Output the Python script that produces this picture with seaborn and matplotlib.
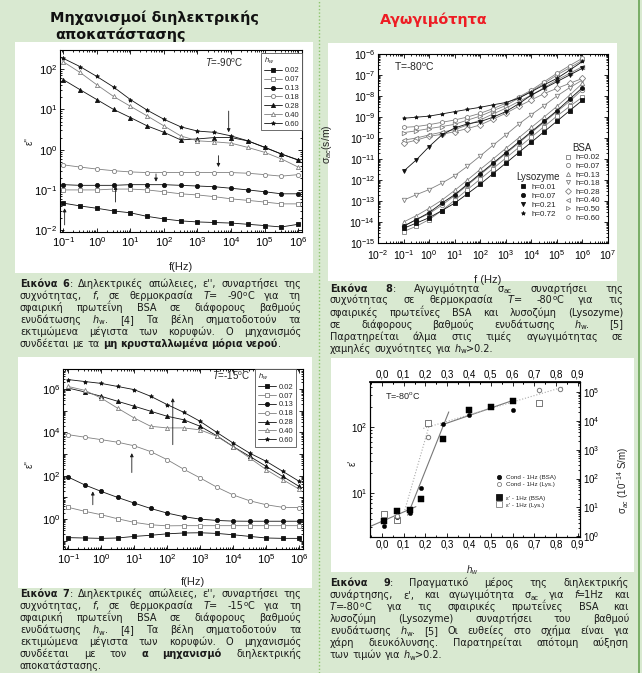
import re
import numpy as np
import matplotlib
matplotlib.use('Agg')
import matplotlib.pyplot as plt
import matplotlib.ticker as mticker
from matplotlib.lines import Line2D
from matplotlib.patches import Rectangle
import seaborn as sns

W, H = 642, 673
BG = '#d9e9d1'
FILLED = '#111111'
OPEN = '#808080'

# frequencies (Hz), half-decade steps
freq = [0.1, 0.316, 1, 3.16, 10, 31.6, 100, 316, 1e3, 3.16e3, 1e4, 3.16e4, 1e5, 3.16e5, 1e6]
hw_labels = ['0.02', '0.07', '0.13', '0.18', '0.28', '0.40', '0.60']
hw_markers = ['s', 's', 'o', 'o', '^', '^', '*']
hw_filled = [True, False, True, False, True, False, True]

# Fig 6: eps'' at T=-90C
e90_002 = [0.047, 0.040, 0.035, 0.030, 0.027, 0.022, 0.019, 0.017, 0.016, 0.0155, 0.015, 0.014, 0.013, 0.012, 0.014]
e90_007 = [0.10, 0.10, 0.10, 0.105, 0.105, 0.10, 0.09, 0.08, 0.075, 0.068, 0.06, 0.055, 0.05, 0.045, 0.045]
e90_013 = [0.135, 0.13, 0.13, 0.13, 0.135, 0.135, 0.135, 0.13, 0.125, 0.12, 0.11, 0.10, 0.09, 0.08, 0.08]
e90_018 = [0.42, 0.37, 0.33, 0.30, 0.28, 0.27, 0.27, 0.27, 0.27, 0.27, 0.27, 0.26, 0.24, 0.22, 0.24]
e90_028 = [55, 31, 17.6, 10, 6.3, 3.9, 2.7, 1.75, 1.85, 2.0, 2.0, 1.65, 1.15, 0.78, 0.55]
e90_040 = [153, 83, 41, 21, 12, 6.9, 3.9, 2.2, 1.66, 1.57, 1.45, 1.14, 0.86, 0.59, 0.37]
e90_060 = [186, 116, 66, 36, 17.6, 9.6, 5.7, 3.7, 2.9, 2.7, 2.2, 1.66, 1.14, 0.78, 0.56]

# Fig 7: eps'' at T=-15C
e15_002 = [0.14, 0.135, 0.13, 0.135, 0.16, 0.18, 0.21, 0.23, 0.235, 0.22, 0.19, 0.16, 0.135, 0.13, 0.13]
e15_007 = [3.5, 2.3, 1.6, 1.04, 0.71, 0.55, 0.49, 0.5, 0.5, 0.5, 0.5, 0.5, 0.5, 0.5, 0.5]
e15_013 = [87, 38, 19, 10, 5.5, 3.1, 1.9, 1.3, 1.0, 0.87, 0.81, 0.8, 0.8, 0.8, 0.8]
e15_018 = [7800, 6000, 4600, 3500, 2400, 1300, 550, 200, 79, 30, 13, 7, 4.6, 3.5, 3.4]
e15_028 = [1.1e6, 7.3e5, 4.6e5, 2.7e5, 1.6e5, 9.4e4, 5.5e4, 3.8e4, 1.9e4, 7e3, 2.2e3, 780, 270, 93, 32]
e15_040 = [1.3e6, 8.7e5, 3.8e5, 1.3e5, 4.6e4, 1.9e4, 1.6e4, 1.6e4, 1.3e4, 6.6e3, 2.2e3, 660, 190, 66, 24]
e15_060 = [2.7e6, 2.2e6, 1.8e6, 1.3e6, 9.3e5, 4.6e5, 1.9e5, 8.4e4, 3.2e4, 1e4, 3.2e3, 1.1e3, 460, 160, 55]

# Fig 8: sigma_ac (S/m) at T=-80C
bsa_labels = ['h=0.02', 'h=0.07', 'h=0.13', 'h=0.18', 'h=0.28', 'h=0.40', 'h=0.50', 'h=0.60']
bsa_markers = ['s', 'o', '^', 'v', 'D', '<', '>', 'h']
s_bsa_002 = [3.5e-15, 6.3e-15, 1.3e-14, 3.5e-14, 1.1e-13, 3.5e-13, 1.1e-12, 3.5e-12, 1.1e-11, 3.5e-11, 1.1e-10, 3.5e-10, 1.1e-9, 3.2e-9, 8.9e-9]
s_bsa_007 = [6.3e-15, 1.3e-14, 2.5e-14, 6.3e-14, 1.8e-13, 5.6e-13, 1.8e-12, 5.6e-12, 1.8e-11, 5.6e-11, 1.8e-10, 5.6e-10, 1.8e-9, 5.6e-9, 2.0e-8]
s_bsa_013 = [1.0e-14, 2.0e-14, 4.5e-14, 1.1e-13, 3.2e-13, 1.0e-12, 3.2e-12, 1.0e-11, 3.2e-11, 1.0e-10, 3.2e-10, 1.0e-9, 3.2e-9, 1.1e-8, 4.0e-8]
s_bsa_018 = [1.1e-13, 2.0e-13, 3.5e-13, 7.1e-13, 1.6e-12, 4.5e-12, 1.4e-11, 4.5e-11, 1.4e-10, 4.5e-10, 1.3e-9, 3.5e-9, 1.0e-8, 2.5e-8, 5.8e-8]
s_bsa_028 = [5.6e-11, 7.9e-11, 1.2e-10, 1.5e-10, 2.0e-10, 2.8e-10, 4.2e-10, 7.9e-10, 1.5e-9, 3.2e-9, 6.5e-9, 1.3e-8, 2.3e-8, 4.0e-8, 6.9e-8]
s_bsa_040 = [7.9e-11, 1.0e-10, 1.4e-10, 1.9e-10, 2.5e-10, 4.2e-10, 7.2e-10, 1.4e-9, 2.6e-9, 5.4e-9, 1.1e-8, 2.5e-8, 5.8e-8, 1.2e-7, 2.5e-7]
s_bsa_050 = [1.8e-10, 2.2e-10, 2.8e-10, 3.5e-10, 4.5e-10, 7.1e-10, 1.1e-9, 2.0e-9, 3.5e-9, 7.9e-9, 1.7e-8, 4.0e-8, 1.0e-7, 2.2e-7, 5.0e-7]
s_bsa_060 = [3.2e-10, 3.5e-10, 4.3e-10, 5.6e-10, 7.2e-10, 1.0e-9, 1.5e-9, 2.5e-9, 4.5e-9, 8.9e-9, 1.9e-8, 4.8e-8, 1.2e-7, 2.8e-7, 6.3e-7]
lys_labels = ['h=0.01', 'h=0.07', 'h=0.21', 'h=0.72']
lys_markers = ['s', 'o', 'v', '*']
s_lys_001 = [5.0e-15, 8.9e-15, 1.6e-14, 3.5e-14, 7.9e-14, 2.2e-13, 6.3e-13, 2.0e-12, 6.3e-12, 2.0e-11, 6.3e-11, 2.0e-10, 6.3e-10, 2.0e-9, 6.3e-9]
s_lys_007 = [6.3e-15, 1.3e-14, 2.8e-14, 7.9e-14, 2.0e-13, 6.3e-13, 2.0e-12, 6.3e-12, 2.0e-11, 6.3e-11, 2.0e-10, 6.3e-10, 2.0e-9, 7.1e-9, 2.5e-8]
s_lys_021 = [2.6e-12, 9.1e-12, 3.9e-11, 1.4e-10, 3.0e-10, 4.7e-10, 6.0e-10, 9.8e-10, 1.8e-9, 4.2e-9, 1.1e-8, 2.3e-8, 4.8e-8, 1.0e-7, 2.1e-7]
s_lys_072 = [8.7e-10, 9.8e-10, 1.1e-9, 1.4e-9, 1.8e-9, 2.3e-9, 2.9e-9, 3.8e-9, 4.9e-9, 7.8e-9, 1.6e-8, 3.4e-8, 6.9e-8, 1.7e-7, 4.4e-7]

# Fig 9: eps' and sigma_ac at 1 Hz vs hydration
h_bsa = [0.01, 0.07, 0.13, 0.18, 0.28, 0.40, 0.50, 0.60]
eps_bsa = [3.8, 5.3, 5.5, 8.0, 65, 180, 200, 248]
cond_bsa = [2.3, 4.7, 6.5, 46, 8000, 16500, 30500, 23000]
h_lys_eps = [0.01, 0.07, 0.21, 0.72]
eps_lys = [4.8, 3.9, 116, 233]
h_lys_cond = [0.07, 0.21, 0.72, 0.82]
cond_lys = [5.2, 2750, 114000, 130000]
# guide lines drawn in the figure (eps' scale)
guide_bsa_h = [[-0.055, 0.156], [0.118, 0.307], [0.27, 0.604]]
guide_bsa_e = [[3.1, 6.2], [4.6, 169], [106, 254]]
guide_lys_h = [[0.105, 0.225], [0.19, 0.83]]
guide_lys_e = [[5.5, 130], [95, 400]]

# arrows: (f, start, end)
arrows90 = [(8.5e3, 9.1, 2.7), (4.2e3, 0.71, 0.37), (58, 0.25, 0.16), (3.6, 0.05, 0.126), (0.11, 0.0135, 0.035)]
arrows15 = [(148, 2.7e3, 3.8e5), (8.5, 140, 1.1e3), (0.56, 4.6, 19)]

cap6 = [
    "**Εικόνα 6**: Διηλεκτρικές απώλειες, ε'',  συναρτήσει της",
    "συχνότητας, ~f~, σε θερμοκρασία ~T~= -90^{o}C για τη",
    "σφαιρική πρωτεΐνη BSA σε διάφορους βαθμούς",
    "ενυδάτωσης ~h~_{w}. [4] Τα βέλη σηματοδοτούν τα",
    "εκτιμώμενα μέγιστα των κορυφών. Ο μηχανισμός",
    "συνδέεται με τα **μη κρυσταλλωμένα μόρια νερού**.",
]
cap7 = [
    "**Εικόνα 7**: Διηλεκτρικές απώλειες, ε'',  συναρτήσει της",
    "συχνότητας, ~f~, σε θερμοκρασία ~T~= -15^{o}C για τη",
    "σφαιρική πρωτεΐνη BSA σε διάφορους βαθμούς",
    "ενυδάτωσης ~h~_{w}. [4] Τα βέλη σηματοδοτούν τα",
    "εκτιμώμενα μέγιστα των κορυφών. Ο μηχανισμός",
    "συνδέεται με τον **α μηχανισμό** διηλεκτρικής",
    "αποκατάστασης.",
]
cap8 = [
    "**Εικόνα 8**: Αγωγιμότητα σ_{ac} συναρτήσει της",
    "συχνότητας σε θερμοκρασία ~T~= -80^{o}C για τις",
    "σφαιρικές πρωτεΐνες BSA και λυσοζύμη (Lysozyme)",
    "σε διάφορους βαθμούς ενυδάτωσης ~h~_{w}. [5]",
    "Παρατηρείται άλμα στις τιμές  αγωγιμότητας σε",
    "χαμηλές συχνότητες για ~h~_{w}>0.2.",
]
cap9 = [
    "**Εικόνα 9**: Πραγματικό μέρος της διηλεκτρικής",
    "συνάρτησης, ε', και αγωγιμότητα σ_{ac} για ~f~=1Hz και",
    "~T~=-80^{o}C για τις σφαιρικές πρωτεΐνες BSA και",
    "λυσοζύμη (Lysozyme) συναρτήσει του βαθμού",
    "ενυδάτωσης ~h~_{w}. [5] Οι ευθείες στο σχήμα είναι για",
    "χάρη διευκόλυνσης. Παρατηρείται απότομη αύξηση",
    "των τιμών για ~h~_{w}>0.2.",
]

sns.set_theme(style='ticks')
plt.rcParams['font.family'] = ['Liberation Sans', 'DejaVu Sans']
plt.rcParams['mathtext.fontset'] = 'custom'
plt.rcParams['mathtext.rm'] = 'Liberation Sans'
plt.rcParams['mathtext.it'] = 'Liberation Sans:italic'
plt.rcParams['mathtext.bf'] = 'Liberation Sans:bold'
plt.rcParams['mathtext.sf'] = 'Liberation Sans'
plt.rcParams['axes.edgecolor'] = 'black'
plt.rcParams['xtick.color'] = 'black'
plt.rcParams['ytick.color'] = 'black'

fig = plt.figure(figsize=(W / 100, H / 100), dpi=100)
fig.patch.set_facecolor(BG)
renderer = fig.canvas.get_renderer()


def panel(x0, y0, x1, y1):
    fig.add_artist(Rectangle((x0 / W, 1 - y1 / H), (x1 - x0) / W, (y1 - y0) / H,
                             transform=fig.transFigure, facecolor='white',
                             edgecolor='none', zorder=-5))


def axes_at(x0, y0, x1, y1):
    return fig.add_axes([x0 / W, 1 - y1 / H, (x1 - x0) / W, (y1 - y0) / H])


def style_ax(ax, fs, right=True):
    ax.tick_params(which='both', direction='in', top=True, right=right,
                   labelsize=fs, width=0.6, pad=2)
    ax.tick_params(which='major', length=3)
    ax.tick_params(which='minor', length=1.5)
    for s in ax.spines.values():
        s.set_linewidth(0.8)
        s.set_color('black')


def log_axis(axis, lo, hi, only_even=False):
    # decades lo..hi only, so no hidden labels sit outside the frame
    axis.set_major_locator(mticker.FixedLocator([10.0 ** k for k in range(lo, hi + 1)]))
    axis.set_minor_locator(mticker.FixedLocator(
        [s * 10.0 ** k for k in range(lo - 1, hi + 1) for s in range(2, 10)]))
    axis.set_minor_formatter(mticker.NullFormatter())
    if only_even:
        axis.set_major_formatter(mticker.FuncFormatter(
            lambda v, p: f'$10^{{{int(round(np.log10(v)))}}}$' if int(round(np.log10(v))) % 2 == 0 else ''))
    else:
        axis.set_major_formatter(mticker.LogFormatterSciNotation())


def curve(ax, x, y, marker, filled, ms=3.0):
    c = FILLED if filled else OPEN
    sns.lineplot(x=x, y=y, ax=ax, color=c, lw=0.6, marker=marker, markersize=ms,
                 markerfacecolor=c if filled else 'white', markeredgecolor=c,
                 markeredgewidth=0.6, errorbar=None)


def handle(marker, filled, line=True, ms=3.0):
    c = FILLED if filled else OPEN
    return Line2D([], [], color=c, lw=0.6 if line else 0, marker=marker, ms=ms,
                  mfc=c if filled else 'white', mec=c, mew=0.6)


TOKEN = re.compile(r'\*\*|~|_\{([^}]*)\}|\^\{([^}]*)\}|([^*~_^]+)')


def parse(line):
    words, bold, ital = [[]], False, False
    for m in TOKEN.finditer(line):
        tok = m.group(0)
        if tok == '**':
            bold = not bold
        elif tok == '~':
            ital = not ital
        elif m.group(1) is not None:
            words[-1].append((m.group(1), bold, ital, 'sub'))
        elif m.group(2) is not None:
            words[-1].append((m.group(2), bold, ital, 'sup'))
        else:
            for j, part in enumerate(tok.split(' ')):
                if j:
                    words.append([])
                if part:
                    words[-1].append((part, bold, ital, ''))
    return [w for w in words if w]


def caption(lines, x0, x1, base, dy, size=7.0):
    space = size * 100 / 72 * 0.32
    for i, line in enumerate(lines):
        y = base + i * dy
        words = parse(line)
        arts, widths = [], []
        for w in words:
            pieces = []
            for s, b, it, pos in w:
                t = fig.text(0.5, 0.5, s, fontsize=size * 0.72 if pos else size,
                             fontweight='bold' if b else 'normal',
                             fontstyle='italic' if it else 'normal',
                             family='DejaVu Sans', color='#1a1a1a', va='baseline')
                pieces.append((t, pos, t.get_window_extent(renderer).width))
            arts.append(pieces)
            widths.append(sum(p[2] for p in pieces))
        last = i == len(lines) - 1
        gap = space if last or len(words) < 2 else (x1 - x0 - sum(widths)) / (len(words) - 1)
        x = x0
        for pieces, wd in zip(arts, widths):
            xx = x
            for t, pos, pw in pieces:
                off = 1.5 if pos == 'sub' else (-3.2 if pos == 'sup' else 0)
                t.set_position((xx / W, 1 - (y + off) / H))
                xx += pw
            x += wd + gap


# background furniture
for p in [(15, 42, 313, 273), (18, 357, 312, 588), (328, 43, 617, 281), (331, 358, 634, 572)]:
    panel(*p)
fig.add_artist(Line2D([319 / W] * 2, [0, 1], transform=fig.transFigure,
                      color='#8cc46c', lw=1.0, ls=(0, (1, 1.5))))
fig.add_artist(Line2D([639 / W] * 2, [0, 1], transform=fig.transFigure,
                      color='#78ad66', lw=1.4))

fig.text(50 / W, 1 - 18 / H, 'Μηχανισμοί διηλεκτρικής', fontsize=10.4, fontweight='bold',
         family='DejaVu Sans', color='#111111', va='center')
fig.text(55 / W, 1 - 35 / H, 'αποκατάστασης', fontsize=10.4, fontweight='bold',
         family='DejaVu Sans', color='#111111', va='center')
fig.text(434 / W, 1 - 20 / H, 'Αγωγιμότητα', fontsize=10.4, fontweight='bold',
         family='DejaVu Sans', color='#ee1c24', va='center', ha='center')

# ---- Fig 6 ----
ax6 = axes_at(60, 50, 302, 232)
for lab, m, fl, vals in zip(hw_labels, hw_markers, hw_filled,
                            [e90_002, e90_007, e90_013, e90_018, e90_028, e90_040, e90_060]):
    curve(ax6, freq, vals, m, fl)
ax6.set(xscale='log', yscale='log')
log_axis(ax6.xaxis, -1, 6)
log_axis(ax6.yaxis, -2, 2)
ax6.set(xlim=(0.08, 1.3e6), ylim=(0.009, 300))
style_ax(ax6, 8)
for f, a, b in arrows90:
    ax6.annotate('', xy=(f, b), xytext=(f, a),
                 arrowprops=dict(arrowstyle='-|>', color='k', lw=0.6, mutation_scale=5,
                                 shrinkA=0, shrinkB=0))
ax6.set_xlabel('f(Hz)', fontsize=8)
ax6.xaxis.set_label_coords(0.5, -0.165)
ax6.set_ylabel("ε''", fontsize=7)
ax6.yaxis.set_label_coords(-0.105, 0.5)
ax6.text(0.68, 0.93, '$T$=-90$^{\\rm o}$C', transform=ax6.transAxes, fontsize=7, ha='center', va='center')
leg = ax6.legend([handle(m, f) for m, f in zip(hw_markers, hw_filled)], hw_labels,
                 title='$h_w$', loc='upper right', bbox_to_anchor=(1.0, 0.985),
                 fontsize=5.5, title_fontsize=5.5, alignment='left', frameon=True,
                 fancybox=False, edgecolor='#555555', framealpha=1, borderpad=0.35,
                 handlelength=2.4, handletextpad=0.3, labelspacing=0.2, borderaxespad=0)
leg.get_frame().set_linewidth(0.6)

# ---- Fig 7 ----
ax7 = axes_at(63, 369, 303, 549)
for lab, m, fl, vals in zip(hw_labels, hw_markers, hw_filled,
                            [e15_002, e15_007, e15_013, e15_018, e15_028, e15_040, e15_060]):
    curve(ax7, freq, vals, m, fl)
ax7.set(xscale='log', yscale='log')
log_axis(ax7.xaxis, -1, 6)
log_axis(ax7.yaxis, -1, 6, only_even=True)
ax7.set(xlim=(0.07, 1.3e6), ylim=(0.042, 8.3e6))
style_ax(ax7, 8)
for f, a, b in arrows15:
    ax7.annotate('', xy=(f, b), xytext=(f, a),
                 arrowprops=dict(arrowstyle='-|>', color='k', lw=0.6, mutation_scale=5,
                                 shrinkA=0, shrinkB=0))
ax7.set_xlabel('f(Hz)', fontsize=8)
ax7.xaxis.set_label_coords(0.54, -0.155)
ax7.set_ylabel("ε''", fontsize=7)
ax7.yaxis.set_label_coords(-0.117, 0.47)
ax7.text(0.70, 0.965, '$T$=-15$^{\\rm o}$C', transform=ax7.transAxes, fontsize=7, ha='center', va='center')
leg = ax7.legend([handle(m, f) for m, f in zip(hw_markers, hw_filled)], hw_labels,
                 title='$h_w$', loc='upper right', bbox_to_anchor=(0.97, 1.0),
                 fontsize=5.5, title_fontsize=5.5, alignment='left', frameon=True,
                 fancybox=False, edgecolor='#555555', framealpha=1, borderpad=0.35,
                 handlelength=2.4, handletextpad=0.3, labelspacing=0.2, borderaxespad=0)
leg.get_frame().set_linewidth(0.6)

# ---- Fig 8 ----
ax8 = axes_at(378, 54, 608, 243)
for m, vals in zip(bsa_markers, [s_bsa_002, s_bsa_007, s_bsa_013, s_bsa_018,
                                 s_bsa_028, s_bsa_040, s_bsa_050, s_bsa_060]):
    curve(ax8, freq, vals, m, False, ms=3.2)
for m, vals in zip(lys_markers, [s_lys_001, s_lys_007, s_lys_021, s_lys_072]):
    curve(ax8, freq, vals, m, True, ms=2.8)
ax8.set(xscale='log', yscale='log')
log_axis(ax8.xaxis, -2, 7)
log_axis(ax8.yaxis, -15, -6)
ax8.set(xlim=(1e-2, 1e7), ylim=(1e-15, 1e-6))
style_ax(ax8, 7.5)
ax8.tick_params(axis='x', pad=4)
ax8.set_xlabel('f (Hz)', fontsize=8)
ax8.xaxis.set_label_coords(0.477, -0.167)
ax8.set_ylabel('σ$_{ac}$(s/m)', fontsize=7.5)
ax8.yaxis.set_label_coords(-0.19, 0.52)
ax8.text(0.16, 0.93, 'T=-80$^{\\rm o}$C', transform=ax8.transAxes, fontsize=7.5, ha='center', va='center')
leg_b = ax8.legend([handle(m, False, line=False) for m in bsa_markers], bsa_labels,
                   title='BSA', loc='upper left', bbox_to_anchor=(0.81, 0.53), frameon=False,
                   fontsize=5.8, title_fontsize=7, handlelength=0.9, handletextpad=0.5,
                   labelspacing=0.12, borderpad=0, borderaxespad=0)
ax8.add_artist(leg_b)
ax8.legend([handle(m, True, line=False) for m in lys_markers], lys_labels,
           title='Lysozyme', loc='upper left', bbox_to_anchor=(0.60, 0.375), frameon=False,
           fontsize=5.8, title_fontsize=7, handlelength=0.9, handletextpad=0.5,
           labelspacing=0.15, borderpad=0, borderaxespad=0)

# ---- Fig 9 ----
ax9 = axes_at(370, 382, 580, 537)
ax9r = ax9.twinx()
for hh, ee in zip(guide_bsa_h, guide_bsa_e):
    sns.lineplot(x=hh, y=ee, ax=ax9, color='#777777', lw=0.8, errorbar=None)
for hh, ee in zip(guide_lys_h, guide_lys_e):
    sns.lineplot(x=hh, y=ee, ax=ax9, color='#aaaaaa', lw=0.8, ls=':', errorbar=None)
sns.scatterplot(x=h_bsa, y=eps_bsa, ax=ax9, marker='s', s=16, color='black', edgecolor='black', zorder=3)
sns.scatterplot(x=h_lys_eps, y=eps_lys, ax=ax9, marker='s', s=16, facecolor='white', edgecolor='#777777', linewidth=0.7, zorder=3)
sns.scatterplot(x=h_bsa, y=cond_bsa, ax=ax9r, marker='o', s=10, color='black', edgecolor='black', zorder=3)
sns.scatterplot(x=h_lys_cond, y=cond_lys, ax=ax9r, marker='o', s=10, facecolor='white', edgecolor='#777777', linewidth=0.7, zorder=3)
ax9.set(yscale='log')
ax9r.set(yscale='log')
log_axis(ax9.yaxis, 1, 2)
log_axis(ax9r.yaxis, 0, 5)
ax9.set(xlim=(-0.055, 0.91), ylim=(2.15, 480))
ax9r.set(ylim=(0.95, 2.2e5))
comma = mticker.FuncFormatter(lambda v, p: f'{v:.1f}'.replace('.', ','))
h_ticks = [0.0, 0.1, 0.2, 0.3, 0.4, 0.5, 0.6, 0.7, 0.8, 0.9]
ax9.xaxis.set_major_locator(mticker.FixedLocator(h_ticks))
ax9.xaxis.set_minor_locator(mticker.MultipleLocator(0.05))
ax9.xaxis.set_major_formatter(comma)
style_ax(ax9, 7, right=False)
ax9.tick_params(top=False)
style_ax(ax9r, 7)
ax9r.tick_params(which='both', left=False, top=False)
top = ax9.secondary_xaxis('top')
top.xaxis.set_major_locator(mticker.FixedLocator(h_ticks))
top.xaxis.set_minor_locator(mticker.MultipleLocator(0.05))
top.xaxis.set_major_formatter(comma)
top.tick_params(which='both', direction='in', labelsize=7, width=0.6, pad=2)
top.tick_params(which='major', length=3)
top.tick_params(which='minor', length=1.5)
ax9.set_xlabel('$h_w$', fontsize=7)
ax9.xaxis.set_label_coords(0.487, -0.17)
ax9.set_ylabel("ε'", fontsize=7)
ax9.yaxis.set_label_coords(-0.06, 0.475)
ax9r.set_ylabel('σ$_{ac}$ (10$^{-14}$ S/m)', fontsize=7)
ax9r.yaxis.set_label_coords(1.17, 0.366)
ax9.text(0.156, 0.914, 'T=-80$^{\\rm o}$C', transform=ax9.transAxes, fontsize=6.5, ha='center', va='center')
leg_c = ax9.legend([handle('o', True, False, 3), handle('o', False, False, 3)],
                   ['Cond - 1Hz (BSA)', 'Cond - 1Hz (Lys.)'], loc='center left',
                   bbox_to_anchor=(0.58, 0.36), frameon=False, fontsize=4.5,
                   handlelength=1.2, handletextpad=0.5, labelspacing=0.25, borderpad=0)
ax9.add_artist(leg_c)
ax9.legend([handle('s', True, False, 4), handle('s', False, False, 4)],
           ["ε' - 1Hz (BSA)", "ε' - 1Hz (Lys.)"], loc='center left',
           bbox_to_anchor=(0.58, 0.23), frameon=False, fontsize=4.5,
           handlelength=1.2, handletextpad=0.5, labelspacing=0.25, borderpad=0)

# ---- captions ----
caption(cap6, 20, 301, 286.6, 12.1)
caption(cap7, 20, 301.5, 596.8, 12.1)
caption(cap8, 330, 623, 291.5, 12.0)
caption(cap9, 330, 629, 586.5, 12.0)

fig.savefig('out.png', dpi=100, facecolor=BG)
